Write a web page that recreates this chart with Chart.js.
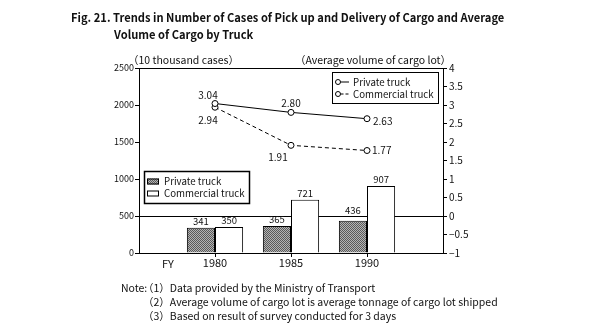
<!DOCTYPE html>
<html>
<head>
<meta charset="utf-8">
<script src="https://cdn.jsdelivr.net/npm/chart.js@4.4.1/dist/chart.umd.min.js"></script>
<style>
html, body { margin: 0; padding: 0; background: #fff; }
body { width: 599px; height: 327px; position: relative; overflow: hidden;
       font-family: "Noto Sans CJK JP", "Noto Sans", sans-serif; color: #111; }
#wrap { position: absolute; left: 0; top: 0; width: 599px; height: 327px; }
.t { position: absolute; white-space: nowrap; font-weight: bold; font-size: 12px; line-height: 12px; transform-origin: 0 0; }
.n { position: absolute; white-space: nowrap; font-size: 10.5px; line-height: 11px; }
</style>
</head>
<body>
<div id="wrap"><canvas id="myCanvas" width="599" height="327"></canvas></div>
<div class="t" id="t1" style="left:71px; top:11px">Fig. 21. Trends in Number of Cases of Pick up and Delivery of Cargo and Average</div>
<div class="t" id="t2" style="left:114px; top:28px">Volume of Cargo by Truck</div>
<div class="n" style="left:121px; top:282px">Note:</div>
<div class="n" style="left:143px; top:282px">（1）Data provided by the Ministry of Transport</div>
<div class="n" style="left:143px; top:296px">（2）Average volume of cargo lot is average tonnage of cargo lot shipped</div>
<div class="n" style="left:143px; top:310px">（3）Based on result of survey conducted for 3 days</div>
<script>
"use strict";
// fiscal years (empty slots pad the axis on both sides)
var years = ['', '1980', '1985', '1990', ''];
// number of cases, 10 thousand cases
var casesPrivate = [null, 341, 365, 436, null];
var casesCommercial = [null, 350, 721, 907, null];
// average volume of cargo lot
var lotPrivate = [null, 3.04, 2.80, 2.63, null];
var lotCommercial = [null, 2.94, 1.91, 1.77, null];
var leftTicks = [0, 500, 1000, 1500, 2000, 2500];
var rightTicks = [-1, -0.5, 0, 0.5, 1, 1.5, 2, 2.5, 3, 3.5, 4];

var FONT = '"Noto Sans CJK JP", "Noto Sans", sans-serif';

function dotPattern() {
    var p = document.createElement('canvas');
    p.width = 2; p.height = 2;
    var g = p.getContext('2d');
    g.fillStyle = '#b4b4b4';
    g.fillRect(0, 0, 2, 2);
    g.fillStyle = '#5a5a5a';
    g.fillRect(0, 0, 1, 1);
    g.fillRect(1, 1, 1, 1);
    return g.createPattern(p, 'repeat');
}
var stipple = dotPattern();

function fmtRight(v) {
    return v < 0 ? '\u2212' + Math.abs(v) : String(v);
}

var extras = {
    id: 'extras',
    afterDatasetsDraw: function (chart) {
        var c = chart.ctx;
        c.save();
        c.fillStyle = '#111';
        // values on the lines
        c.font = '10px ' + FONT;
        c.textBaseline = 'middle';
        var place = [
            [null, [-7, -8, 'center'], [0, -9, 'center'], [6, 3, 'left']],
            [null, [-7, 13, 'center'], [-13, 12, 'center'], [5, 0, 'left']]
        ];
        [0, 1].forEach(function (d) {
            var meta = chart.getDatasetMeta(d);
            var vals = chart.data.datasets[d].data;
            meta.data.forEach(function (pt, i) {
                if (vals[i] === null) return;
                var p = place[d][i];
                c.textAlign = p[2];
                c.fillText(vals[i].toFixed(2), pt.x + p[0], pt.y + p[1]);
            });
        });
        // values on the bars, lifted over the 500 line when it would cut them
        var yLine = chart.scales.y.getPixelForValue(500);
        c.font = '9.5px ' + FONT;
        c.textAlign = 'center';
        c.textBaseline = 'bottom';
        [2, 3].forEach(function (d) {
            var meta = chart.getDatasetMeta(d);
            var vals = chart.data.datasets[d].data;
            meta.data.forEach(function (bar, i) {
                if (vals[i] === null) return;
                var b = bar.y - 2;
                if (yLine > b - 9 + 3 && yLine < b) b = yLine - 1;
                c.fillText(String(vals[i]), bar.x, b);
            });
        });
        c.restore();
    },
    afterDraw: function (chart) {
        var c = chart.ctx;
        var a = chart.chartArea;
        c.save();
        c.fillStyle = '#111';
        c.strokeStyle = '#000';
        c.font = '10.5px ' + FONT;
        c.textBaseline = 'middle';
        c.textAlign = 'left';
        c.fillText('（10 thousand cases）', a.left - 11, a.top - 8);
        c.textAlign = 'right';
        c.fillText('（Average volume of cargo lot）', a.right + 8, a.top - 8);

        // FY on the category axis
        c.font = '11px ' + FONT;
        c.textAlign = 'center';
        c.fillText('FY', chart.scales.x.getPixelForValue(0.38), a.bottom + 11);

        // line legend
        var lx = a.right - 111, ly = a.top + 4;
        c.fillStyle = '#fff';
        c.fillRect(lx, ly, 106, 31);
        c.lineWidth = 1;
        c.strokeRect(lx + 0.5, ly + 0.5, 106, 31);
        c.font = '9.7px ' + FONT;
        c.textAlign = 'left';
        [['Private truck', []], ['Commercial truck', [3, 2]]].forEach(function (it, k) {
            var y = ly + 10 + k * 12;
            c.setLineDash(it[1]);
            c.beginPath();
            c.moveTo(lx + 8.5, y);
            c.lineTo(lx + 17, y);
            c.stroke();
            c.setLineDash([]);
            c.beginPath();
            c.arc(lx + 6, y, 2.5, 0, Math.PI * 2);
            c.fillStyle = '#fff';
            c.fill();
            c.stroke();
            c.fillStyle = '#111';
            c.fillText(it[0], lx + 21, y);
        });

        // bar legend
        var bx = a.left + 5, by = a.top + 103;
        c.fillStyle = '#fff';
        c.fillRect(bx, by, 105, 32);
        c.lineWidth = 1.5;
        c.strokeRect(bx + 0.5, by + 0.5, 105, 32);
        c.lineWidth = 1;
        [['Private truck', stipple], ['Commercial truck', '#fff']].forEach(function (it, k) {
            var y = by + 10.5 + k * 12;
            c.fillStyle = it[1];
            c.fillRect(bx + 3, y - 3, 12, 6);
            c.strokeRect(bx + 3.5, y - 2.5, 11, 5);
            c.fillStyle = '#111';
            c.fillText(it[0], bx + 20, y);
        });
        c.restore();
    }
};

var chartdata = {
    labels: years,
    datasets: [
        {
            type: 'line',
            label: 'Private truck',
            data: lotPrivate,
            yAxisID: 'y2',
            borderColor: '#000',
            borderWidth: 1,
            pointRadius: 3,
            pointBackgroundColor: '#fff',
            pointBorderColor: '#000',
            pointBorderWidth: 1
        },
        {
            type: 'line',
            label: 'Commercial truck',
            data: lotCommercial,
            yAxisID: 'y2',
            borderColor: '#000',
            borderWidth: 1,
            borderDash: [4, 3],
            pointRadius: 3,
            pointBackgroundColor: '#fff',
            pointBorderColor: '#000',
            pointBorderWidth: 1
        },
        {
            label: 'Private truck',
            data: casesPrivate,
            yAxisID: 'y',
            backgroundColor: stipple,
            borderColor: '#000',
            borderWidth: 1
        },
        {
            label: 'Commercial truck',
            data: casesCommercial,
            yAxisID: 'y',
            backgroundColor: '#fff',
            borderColor: '#000',
            borderWidth: 1
        }
    ]
};

var ctx = document.getElementById('myCanvas');
var barGraph = new Chart(ctx, {
    type: 'bar',
    data: chartdata,
    plugins: [extras],
    options: {
        responsive: false,
        animation: false,
        devicePixelRatio: 1,
        layout: { padding: { top: 68, left: 0, right: 0, bottom: 0 } },
        categoryPercentage: 0.74,
        barPercentage: 1,
        plugins: { legend: { display: false }, tooltip: { enabled: false } },
        scales: {
            x: {
                offset: false,
                grid: {
                    offset: false,
                    drawOnChartArea: false,
                    tickLength: 4,
                    tickColor: function (c) { return (c.index === 0 || c.index === 4) ? 'rgba(0,0,0,0)' : '#000'; }
                },
                border: { color: '#000', width: 1 },
                ticks: { color: '#111', font: { family: FONT, size: 11 }, padding: -1, maxRotation: 0, autoSkip: false },
                afterFit: function (s) { s.height = 74; }
            },
            y: {
                position: 'left',
                min: 0,
                max: 2500,
                afterBuildTicks: function (s) { s.ticks = leftTicks.map(function (v) { return { value: v }; }); },
                grid: {
                    color: function (c) { return (c.tick && (c.tick.value === 500 || c.tick.value === 2500)) ? '#000' : 'rgba(0,0,0,0)'; },
                    tickColor: '#000',
                    tickLength: 4
                },
                border: { color: '#000', width: 1 },
                ticks: { color: '#111', font: { family: FONT, size: 9 }, padding: 1, callback: function (v) { return String(v); } },
                afterFit: function (s) { s.width = 139; }
            },
            y2: {
                position: 'right',
                min: -1,
                max: 4,
                afterBuildTicks: function (s) { s.ticks = rightTicks.map(function (v) { return { value: v }; }); },
                grid: { drawOnChartArea: false, tickColor: '#000', tickLength: 4 },
                border: { color: '#000', width: 1 },
                ticks: { color: '#111', font: { family: FONT, size: 10 }, padding: 2, callback: fmtRight },
                afterFit: function (s) { s.width = 156; }
            }
        }
    }
});

// squeeze the title to the width it has in the figure
(function () {
    var t1 = document.getElementById('t1');
    var t2 = document.getElementById('t2');
    var k = 433 / t1.scrollWidth;
    t1.style.transform = 'scaleX(' + k + ')';
    t2.style.transform = 'scaleX(' + k + ')';
})();
</script>
</body>
</html>
